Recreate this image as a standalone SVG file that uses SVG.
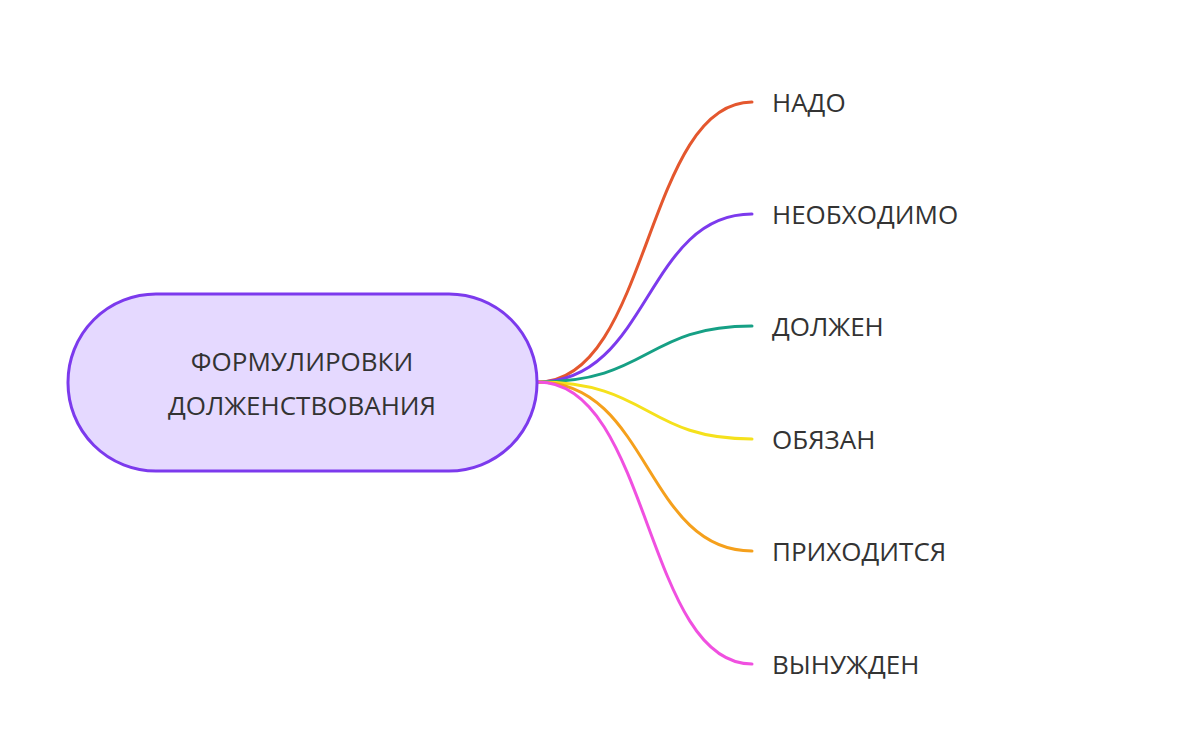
<svg xmlns="http://www.w3.org/2000/svg" width="1200" height="745" viewBox="0 0 1200 745">
<style>
text{font-family:"Open Sans","Noto Sans",sans-serif;font-size:26px;fill:#333}
.c{fill:none;stroke-width:3;stroke-linecap:round}
</style>
<rect width="1200" height="745" fill="#fff"/>
<g id="connectors">
<path class="c" stroke="#e4572e" d="M538,382 C650,382 645,102 752,102"/>
<path class="c" stroke="#7c3aed" d="M538,382 C650,382 645,214 752,214"/>
<path class="c" stroke="#16a085" d="M538,382 C650,382 645,326 752,326"/>
<path class="c" stroke="#f5e11c" d="M538,382 C650,382 645,439 752,439"/>
<path class="c" stroke="#f5a01c" d="M538,382 C650,382 645,551 752,551"/>
<path class="c" stroke="#f050e0" d="M538,382 C650,382 645,664 752,664"/>
</g>
<g id="root">
<rect x="68" y="294" width="469" height="177" rx="88" fill="#e5d9ff" stroke="#7c3aed" stroke-width="3"/>
<text x="302" y="371" text-anchor="middle">ФОРМУЛИРОВКИ</text>
<text x="302" y="415" text-anchor="middle">ДОЛЖЕНСТВОВАНИЯ</text>
</g>
<g id="n1"><text x="772" y="112">НАДО</text></g>
<g id="n2"><text x="772" y="224">НЕОБХОДИМО</text></g>
<g id="n3"><text x="772" y="336">ДОЛЖЕН</text></g>
<g id="n4"><text x="772" y="449">ОБЯЗАН</text></g>
<g id="n5"><text x="772" y="561">ПРИХОДИТСЯ</text></g>
<g id="n6"><text x="772" y="674">ВЫНУЖДЕН</text></g>
</svg>
